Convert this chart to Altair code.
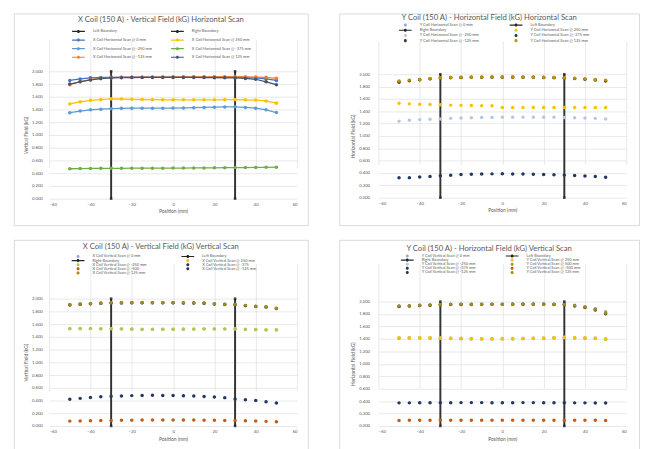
import altair as alt
import pandas as pd

FONT = "Lato"
GREY = "#595959"

POS = [-50, -45, -40, -35, -30, -25, -20, -15, -10, -5, 0, 5, 10, 15, 20, 25, 30, 35, 40, 45, 50]
X_TICKS = [-60, -40, -20, 0, 20, 40, 60]
Y_TICKS = [0.0, 0.2, 0.4, 0.6, 0.8, 1.0, 1.2, 1.4, 1.6, 1.8, 2.0]
BOUND_NAME = ["Left Boundary", "Left Boundary", "Right Boundary", "Right Boundary"]
BOUND_X = [-30, -30, 30, 30]
BOUND_Y = [0.0, 2.0, 0.0, 2.0]

# ---------- Panel 1: X coil, vertical field, horizontal scan ----------
P1_NAMES = ["Left Boundary", "Right Boundary",
            "X Coil Horizontal Scan @ 0 mm", "X Coil Horizontal Scan @ 250 mm",
            "X Coil Horizontal Scan @ -250 mm", "X Coil Horizontal Scan @ -375 mm",
            "X Coil Horizontal Scan @ -125 mm", "X Coil Horizontal Scan @ 125 mm"]
P1_COLORS = ["#262626", "#262626", "#4472C4", "#FFC000", "#5B9BD5", "#70AD47", "#ED7D31", "#44546A"]
P1_0 = [1.857, 1.880, 1.897, 1.903, 1.905, 1.907, 1.908, 1.908, 1.908, 1.909, 1.909, 1.910, 1.910, 1.910, 1.910, 1.910, 1.908, 1.903, 1.895, 1.880, 1.856]
P1_250 = [1.487, 1.520, 1.545, 1.555, 1.567, 1.565, 1.560, 1.557, 1.555, 1.553, 1.552, 1.552, 1.552, 1.553, 1.553, 1.555, 1.555, 1.553, 1.548, 1.535, 1.500]
P1_M250 = [1.350, 1.375, 1.395, 1.405, 1.413, 1.418, 1.420, 1.420, 1.420, 1.420, 1.422, 1.425, 1.428, 1.432, 1.437, 1.440, 1.442, 1.432, 1.420, 1.395, 1.352]
P1_M375 = [0.470, 0.473, 0.475, 0.476, 0.477, 0.477, 0.478, 0.478, 0.478, 0.479, 0.480, 0.481, 0.482, 0.483, 0.485, 0.486, 0.488, 0.489, 0.490, 0.492, 0.495]
P1_M125 = [1.790, 1.838, 1.870, 1.890, 1.900, 1.905, 1.907, 1.908, 1.909, 1.910, 1.911, 1.912, 1.913, 1.914, 1.915, 1.915, 1.915, 1.913, 1.910, 1.905, 1.890]
P1_125 = [1.800, 1.835, 1.865, 1.885, 1.895, 1.900, 1.902, 1.903, 1.903, 1.903, 1.903, 1.903, 1.903, 1.902, 1.900, 1.898, 1.895, 1.888, 1.875, 1.835, 1.790]

# ---------- Panel 2: Y coil, horizontal field, horizontal scan ----------
P2_NAMES = ["Y Coil Horizontal Scan @ 0 mm", "Left Boundary", "Right Boundary",
            "Y Coil Horizontal Scan @ 250 mm", "Y Coil Horizontal Scan @ -250 mm",
            "Y Coil Horizontal Scan @ -375 mm", "Y Coil Horizontal Scan @ -125 mm",
            "Y Coil Horizontal Scan @ 125 mm"]
P2_COLORS = ["#8FAADC", "#262626", "#262626", "#FFC000", "#B4C7E7", "#203864", "#3F3F2A", "#BF9000"]
P2_0 = [1.880, 1.900, 1.912, 1.927, 1.942, 1.946, 1.949, 1.951, 1.952, 1.954, 1.954, 1.954, 1.952, 1.951, 1.949, 1.946, 1.941, 1.932, 1.922, 1.910, 1.897]
P2_250 = [1.531, 1.520, 1.515, 1.510, 1.506, 1.500, 1.496, 1.494, 1.491, 1.490, 1.462, 1.461, 1.461, 1.461, 1.461, 1.461, 1.462, 1.461, 1.461, 1.461, 1.462]
P2_M250 = [1.240, 1.255, 1.265, 1.270, 1.275, 1.285, 1.290, 1.295, 1.298, 1.300, 1.302, 1.305, 1.305, 1.305, 1.305, 1.305, 1.300, 1.295, 1.290, 1.285, 1.275]
P2_M375 = [0.323, 0.325, 0.335, 0.345, 0.355, 0.365, 0.375, 0.380, 0.383, 0.386, 0.387, 0.385, 0.383, 0.380, 0.376, 0.371, 0.366, 0.360, 0.350, 0.343, 0.330]
P2_M125 = [1.870, 1.895, 1.910, 1.925, 1.940, 1.945, 1.948, 1.950, 1.952, 1.953, 1.953, 1.953, 1.952, 1.950, 1.948, 1.945, 1.940, 1.930, 1.920, 1.905, 1.890]
P2_125 = [1.890, 1.905, 1.915, 1.930, 1.945, 1.948, 1.950, 1.952, 1.953, 1.955, 1.955, 1.955, 1.953, 1.952, 1.950, 1.947, 1.943, 1.935, 1.925, 1.915, 1.905]

# ---------- Panel 3: X coil, vertical field, vertical scan ----------
P3_NAMES = ["X Coil Vertical Scan @ 0 mm", "Left Boundary", "Right Boundary",
            "X Coil Vertical Scan @ 250 mm", "X Coil Vertical Scan @ -250 mm",
            "X Coil Vertical Scan @ -375", "X Coil Vertical Scan @ -500",
            "X Coil Vertical Scan @ -125 mm", "X Coil Vertical Scan @ 125 mm"]
P3_COLORS = ["#8FAADC", "#262626", "#262626", "#FFC000", "#A9C66A", "#203864", "#C55A11", "#3A3A3A", "#A68A1C"]
P3_0 = [1.904, 1.915, 1.920, 1.928, 1.934, 1.935, 1.935, 1.935, 1.935, 1.935, 1.935, 1.933, 1.931, 1.928, 1.918, 1.911, 1.907, 1.892, 1.878, 1.870, 1.847]
P3_250 = [1.530, 1.530, 1.532, 1.528, 1.530, 1.525, 1.523, 1.520, 1.520, 1.520, 1.520, 1.522, 1.523, 1.525, 1.525, 1.525, 1.527, 1.520, 1.515, 1.512, 1.510]
P3_M250 = [1.527, 1.528, 1.529, 1.525, 1.527, 1.522, 1.520, 1.517, 1.517, 1.518, 1.518, 1.519, 1.520, 1.522, 1.522, 1.522, 1.524, 1.517, 1.512, 1.509, 1.507]
P3_M375 = [0.419, 0.434, 0.448, 0.458, 0.467, 0.472, 0.477, 0.479, 0.482, 0.480, 0.479, 0.475, 0.470, 0.462, 0.455, 0.445, 0.425, 0.412, 0.400, 0.382, 0.361]
P3_M500 = [0.077, 0.080, 0.082, 0.085, 0.088, 0.090, 0.092, 0.094, 0.095, 0.096, 0.096, 0.095, 0.094, 0.092, 0.090, 0.088, 0.085, 0.082, 0.078, 0.073, 0.067]
P3_M125 = [1.900, 1.912, 1.918, 1.926, 1.932, 1.933, 1.934, 1.934, 1.934, 1.934, 1.934, 1.932, 1.930, 1.926, 1.916, 1.909, 1.905, 1.890, 1.876, 1.868, 1.845]
P3_125 = [1.908, 1.918, 1.923, 1.930, 1.937, 1.937, 1.937, 1.937, 1.937, 1.937, 1.937, 1.935, 1.933, 1.930, 1.920, 1.913, 1.910, 1.894, 1.880, 1.873, 1.850]

# ---------- Panel 4: Y coil, horizontal field, vertical scan ----------
P4_NAMES = ["Y Coil Vertical Scan @ 0 mm", "Left Boundary", "Right Boundary",
            "Y Coil Vertical Scan @ 250 mm", "Y Coil Vertical Scan @ -250 mm",
            "Y Coil Vertical Scan @ 500 mm", "Y Coil Vertical Scan @ -375 mm",
            "Y Coil Vertical Scan @ -500 mm", "Y Coil Vertical Scan @ -125 mm",
            "Y Coil Vertical Scan @ 125 mm"]
P4_COLORS = ["#8FAADC", "#262626", "#262626", "#FFC000", "#B4C7E7", "#70AD47", "#203864", "#C55A11", "#3A3A3A", "#A68A1C"]
P4_0 = [1.928, 1.933, 1.941, 1.944, 1.954, 1.956, 1.957, 1.958, 1.959, 1.959, 1.959, 1.960, 1.961, 1.961, 1.960, 1.958, 1.955, 1.940, 1.918, 1.885, 1.835]
P4_250 = [1.417, 1.418, 1.418, 1.417, 1.412, 1.410, 1.408, 1.405, 1.403, 1.403, 1.405, 1.405, 1.408, 1.410, 1.413, 1.420, 1.422, 1.420, 1.417, 1.412, 1.400]
P4_M250 = [1.420, 1.421, 1.421, 1.420, 1.415, 1.413, 1.411, 1.408, 1.406, 1.406, 1.408, 1.408, 1.411, 1.413, 1.416, 1.423, 1.425, 1.423, 1.420, 1.415, 1.403]
P4_500 = [1.412, 1.413, 1.413, 1.412, 1.407, 1.405, 1.403, 1.400, 1.398, 1.398, 1.400, 1.400, 1.403, 1.405, 1.408, 1.415, 1.417, 1.415, 1.412, 1.407, 1.395]
P4_M375 = [0.372, 0.372, 0.374, 0.374, 0.374, 0.375, 0.376, 0.376, 0.376, 0.375, 0.375, 0.375, 0.376, 0.376, 0.375, 0.374, 0.373, 0.372, 0.372, 0.371, 0.371]
P4_M500 = [0.090, 0.091, 0.091, 0.092, 0.092, 0.093, 0.093, 0.093, 0.094, 0.094, 0.094, 0.094, 0.094, 0.094, 0.093, 0.093, 0.092, 0.092, 0.091, 0.091, 0.090]
P4_M125 = [1.922, 1.927, 1.937, 1.940, 1.950, 1.952, 1.953, 1.954, 1.955, 1.955, 1.955, 1.956, 1.957, 1.957, 1.956, 1.953, 1.950, 1.930, 1.905, 1.865, 1.805]
P4_125 = [1.930, 1.935, 1.942, 1.945, 1.953, 1.955, 1.956, 1.957, 1.958, 1.958, 1.958, 1.958, 1.959, 1.959, 1.958, 1.956, 1.953, 1.935, 1.912, 1.875, 1.815]

# legend / marker symbols (unit box -1..1 scaled by sqrt(size)/2; the line extends beyond it)
LINE_DOT = "M-4,-0.37H4V0.37H-4Z M0.96,0A0.96,0.96 0 1,1 -0.96,0A0.96,0.96 0 1,1 0.96,0Z"
DOT = "M0.96,0A0.96,0.96 0 1,1 -0.96,0A0.96,0.96 0 1,1 0.96,0Z"


def scan_df(names, series):
    rows = []
    for name, vals in zip(names, series):
        for x, y in zip(POS, vals):
            rows.append({"series": name, "x": x, "y": y})
    return pd.DataFrame(rows)


BDF = pd.DataFrame({"b": BOUND_NAME, "x": BOUND_X, "y": BOUND_Y})


def panel(p):
    W, H = p["W"], p["H"]
    xs = alt.Scale(domain=[-60, 60], range=[p["px0"], p["px1"]], nice=False, zero=False)
    ys = alt.Scale(domain=[0, 2], range=[p["py1"], p["py0"]], nice=False, zero=False)
    xax = alt.Axis(values=X_TICKS, format="d", title="Position (mm)", offset=p["py1"] - H,
                   grid=True, domain=False, ticks=False, labelPadding=4, titlePadding=2)
    yax = alt.Axis(values=Y_TICKS, format=".3f", title=p["ytitle"], offset=-p["px0"],
                   grid=True, domain=False, ticks=False, labelPadding=p["ylp"], titlePadding=3)
    X = alt.X("x:Q", scale=xs, axis=xax)
    Y = alt.Y("y:Q", scale=ys, axis=yax)
    leg_kw = dict(orient="none", legendX=p["lx"], legendY=p["ly"], columns=2, title=None,
                  direction="horizontal", padding=0,
                  columnPadding=p["colpad"], rowPadding=p["rowpad"], symbolSize=10.6,
                  symbolOffset=6.5, labelOffset=12.75,
                  labelLimit=400, symbolStrokeWidth=0)
    bline = alt.Chart(BDF).mark_line(color="#333333", strokeWidth=2).encode(x=X, y=Y, detail="b:N")
    bend = alt.Chart(BDF).mark_square(color="#111111", size=7).encode(x=X, y=Y)
    sdf = scan_df(p["scan_names"], p["scan_vals"])
    if p["lines"]:
        leg = alt.Legend(symbolType=LINE_DOT, **leg_kw)
        cscale = alt.Scale(domain=p["names"], range=p["colors"])
        lines = alt.Chart(sdf).mark_line(strokeWidth=1.3).encode(
            x=X, y=Y, color=alt.Color("series:N", scale=cscale, legend=leg))
        pts = alt.Chart(sdf).mark_point(filled=True, shape="circle", size=13, opacity=1).encode(
            x=X, y=Y, color=alt.Color("series:N", scale=cscale, legend=leg))
        layers = [bline, lines, pts, bend]
    else:
        leg = alt.Legend(**leg_kw)
        shapes = [LINE_DOT if "Boundary" in n else DOT for n in p["names"]]
        pts = alt.Chart(sdf).mark_point(filled=True, size=13.3, opacity=1).encode(
            x=X, y=Y,
            color=alt.Color("series:N", scale=alt.Scale(domain=p["names"], range=p["colors"]), legend=leg),
            shape=alt.Shape("series:N", scale=alt.Scale(domain=p["names"], range=shapes), legend=leg))
        layers = [bline, pts, bend]
    return alt.layer(*layers).properties(
        width=W, height=H,
        title=alt.TitleParams(p["title"], offset=p["toff"], anchor="middle"))


tl = panel(dict(W=300, H=216, px0=36, px1=289, py0=59, py1=189, ylp=7,
                ytitle="Vertical Field (kG)", title="X Coil (150 A) - Vertical Field (kG) Horizontal Scan",
                toff=-11, lx=57.4, ly=16.3, colpad=17, rowpad=4.8, lines=True,
                names=P1_NAMES, colors=P1_COLORS,
                scan_names=P1_NAMES[2:], scan_vals=[P1_0, P1_250, P1_M250, P1_M375, P1_M125, P1_125]))
tr = panel(dict(W=306, H=216, px0=40, px1=293, py0=62, py1=188, ylp=9,
                ytitle="Horizontal Field (kG)", title="Y Coil (150 A) - Horizontal Field (kG) Horizontal Scan",
                toff=-8, lx=59, ly=9.8, colpad=29, rowpad=1.3, lines=False,
                names=P2_NAMES, colors=P2_COLORS,
                scan_names=[P2_NAMES[0]] + P2_NAMES[3:],
                scan_vals=[P2_0, P2_250, P2_M250, P2_M375, P2_M125, P2_125]))
bl = panel(dict(W=300, H=214, px0=36, px1=289, py0=60, py1=190, ylp=7,
                ytitle="Vertical Field (kG)", title="X Coil (150 A) - Vertical Field (kG) Vertical Scan",
                toff=-11, lx=57, ly=15, colpad=33, rowpad=0.2, lines=False,
                names=P3_NAMES, colors=P3_COLORS,
                scan_names=[P3_NAMES[0]] + P3_NAMES[3:],
                scan_vals=[P3_0, P3_250, P3_M250, P3_M375, P3_M500, P3_M125, P3_125]))
br = panel(dict(W=306, H=214, px0=40, px1=293, py0=63, py1=190, ylp=9,
                ytitle="Horizontal Field (kG)", title="Y Coil (150 A) - Horizontal Field (kG) Vertical Scan",
                toff=-13, lx=61, ly=14.5, colpad=28, rowpad=0.2, lines=False,
                names=P4_NAMES, colors=P4_COLORS,
                scan_names=["Y Coil Vertical Scan @ 0 mm", "Y Coil Vertical Scan @ 500 mm",
                            "Y Coil Vertical Scan @ -250 mm", "Y Coil Vertical Scan @ 250 mm",
                            "Y Coil Vertical Scan @ -375 mm", "Y Coil Vertical Scan @ -500 mm",
                            "Y Coil Vertical Scan @ -125 mm", "Y Coil Vertical Scan @ 125 mm"],
                scan_vals=[P4_0, P4_500, P4_M250, P4_250, P4_M375, P4_M500, P4_M125, P4_125]))

top = alt.hconcat(tl, tr, spacing=30).resolve_scale(color="independent", shape="independent")
bottom = alt.hconcat(bl, br, spacing=30).resolve_scale(color="independent", shape="independent")

chart = alt.vconcat(top, bottom, spacing=13).resolve_scale(
    color="independent", shape="independent"
).properties(
    padding={"left": 5, "top": 0, "right": 0, "bottom": 0}
).configure(
    font=FONT
).configure_view(
    stroke="#d9d9d9", strokeWidth=1
).configure_axis(
    labelFont=FONT, labelFontSize=4.3, labelColor=GREY,
    titleFont=FONT, titleFontSize=5, titleColor=GREY, titleFontWeight="normal",
    gridColor="#d9d9d9", gridWidth=0.6
).configure_legend(
    labelFont=FONT, labelFontSize=4, labelColor=GREY
).configure_title(
    font=FONT, fontSize=7.8, color=GREY, fontWeight="normal"
)

chart.save("out.html", embed_options={"renderer": "svg", "actions": False})
